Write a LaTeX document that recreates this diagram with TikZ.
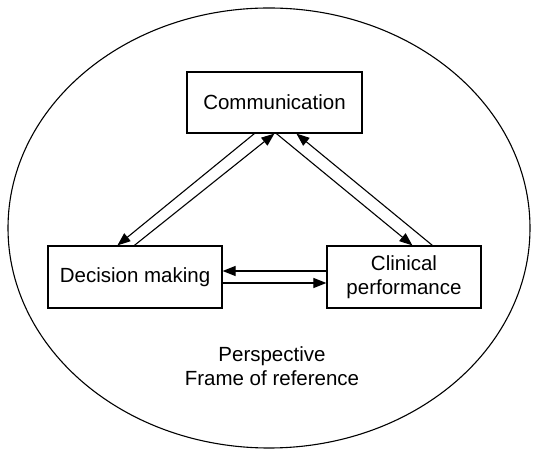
\documentclass[tikz,border=0pt]{standalone}
\usepackage{fontspec}
\setmainfont{Liberation Sans}
\usetikzlibrary{arrows.meta}
\begin{document}
\begin{tikzpicture}[x=1pt,y=1pt,
  box/.style={draw,line width=1.2pt,inner sep=0pt,align=center,font=\fontsize{20.5}{24}\selectfont},
  conn/.style={line width=1.1pt,-{Triangle[length=13pt,width=10pt]}},
  lbl/.style={align=center,font=\fontsize{20.5}{24}\selectfont}]
\useasboundingbox (0,0) rectangle (540,454);
\draw[line width=1.1pt] (269,226) ellipse [x radius=261, y radius=220];
\node[box,minimum width=175pt,minimum height=61pt] (comm) at (274.5,351.5) {Communication};
\node[box,minimum width=174pt,minimum height=62pt] (dm) at (135,177) {Decision making};
\node[box,minimum width=154pt,minimum height=62pt] (cp) at (404,177) {Clinical\\performance};
\node[lbl] (persp) at (272,88) {Perspective\\Frame of reference};
\draw[conn] ([xshift=68pt]comm.south west) -- ([xshift=70pt]dm.north west);
\draw[conn] ([xshift=87pt]dm.north west) -- ([xshift=88pt]comm.south west);
\draw[conn] ([xshift=90pt]comm.south west) -- ([xshift=86pt]cp.north west);
\draw[conn] ([xshift=106pt]cp.north west) -- ([xshift=110pt]comm.south west);
\draw[conn] ([yshift=6pt]cp.west) -- ([yshift=6pt]dm.east);
\draw[conn] ([yshift=-6pt]dm.east) -- ([yshift=-6pt]cp.west);
\end{tikzpicture}
\end{document}
